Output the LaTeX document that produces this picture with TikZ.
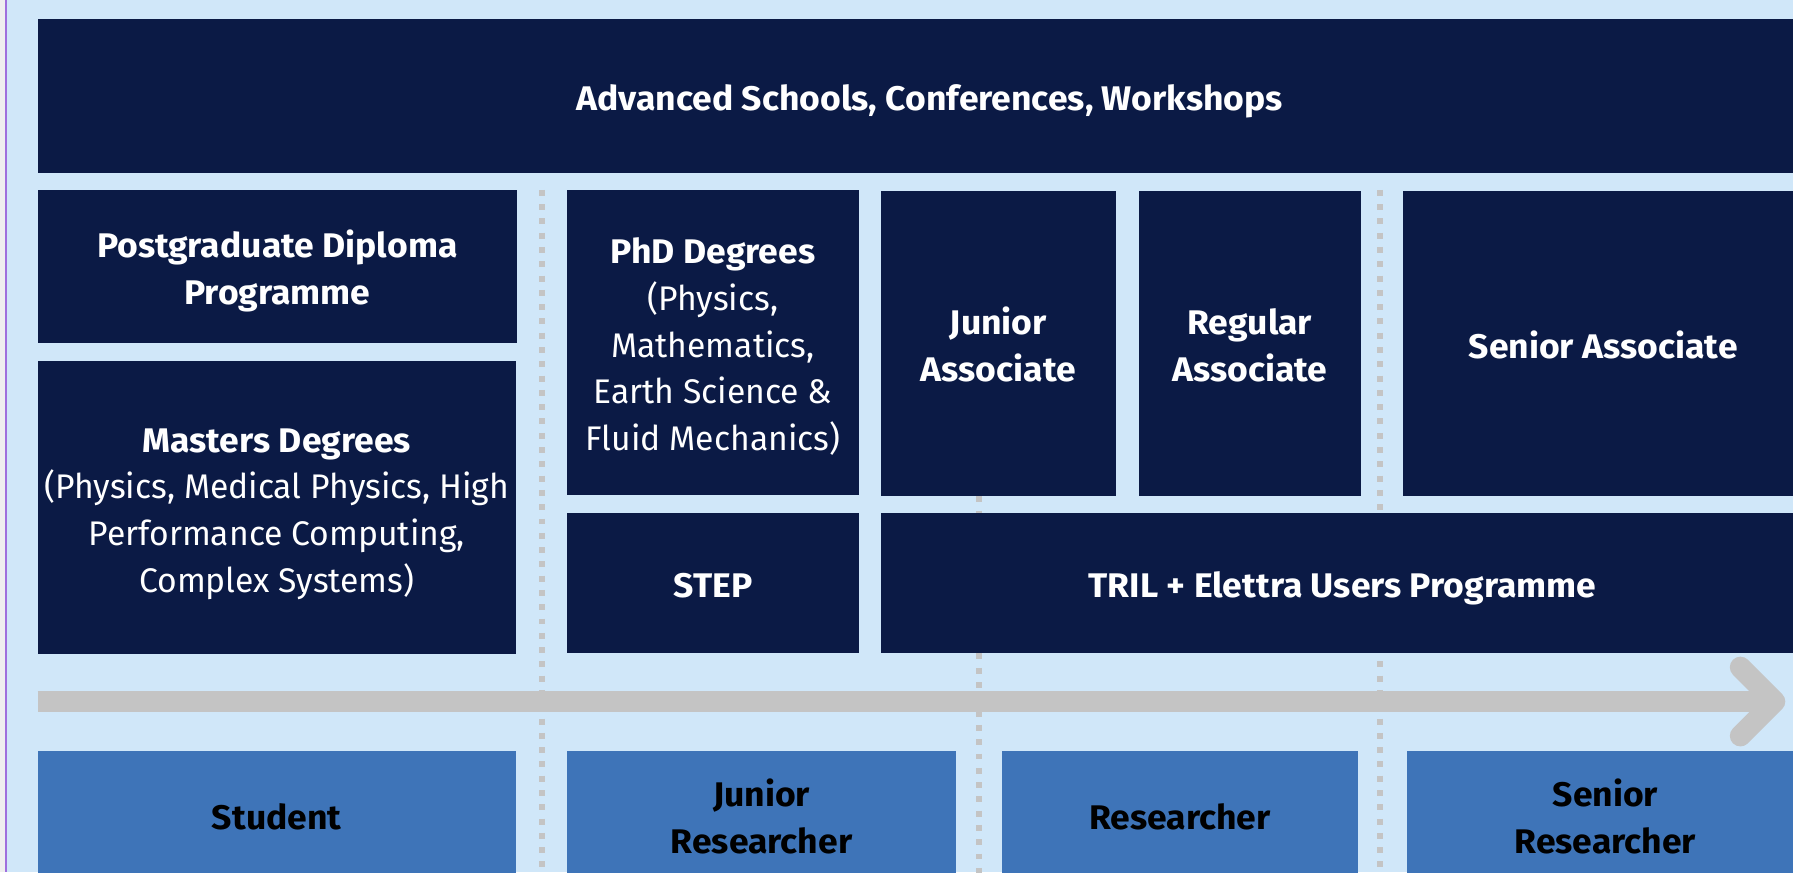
\documentclass[tikz,border=0pt]{standalone}
\usepackage{fontspec}
\setmainfont{Fira Sans}[UprightFeatures={FakeStretch=0.985}, BoldFeatures={FakeStretch=1.04}]
\definecolor{navy}{HTML}{0B1A45}
\definecolor{midblue}{HTML}{3E74B8}
\definecolor{bgblue}{HTML}{D0E7F9}
\definecolor{sepgray}{HTML}{C4C4C4}
\definecolor{edgegray}{HTML}{EFEFEF}
\definecolor{edgepurple}{HTML}{9F6FDD}
\newcommand\tst{\rule{0pt}{0.71cm}}
\newcommand\bst{\rule[-0.2cm]{0pt}{0.2cm}}
\begin{document}
\begin{tikzpicture}[x=0.02cm,y=-0.02cm,
  wh/.style 2 args={minimum width=#1*0.02cm, minimum height=#2*0.02cm},
  box/.style={draw=none, inner sep=0pt, outer sep=0pt, anchor=north west, align=center,
              font=\fontsize{17}{23.2}\selectfont},
  dark/.style={box, fill=navy, text=white},
  mid/.style={box, fill=midblue, text=black},
  sepline/.style={line width=0.1cm, draw=sepgray, dash pattern=on 0.104cm off 0.146cm},
  progress/.style={line width=0.37cm, draw=sepgray}]
\useasboundingbox (0,0) rectangle (1568,763);
\clip (0,0) rectangle (1568,763);
\fill[bgblue] (0,0) rectangle (1568,763);
\fill[edgegray] (0,0) rectangle (5,763);
\draw[edgepurple, line width=0.03cm] (5.5,0) -- (5.5,763);
% separators
\coordinate (s1t) at (474,166); \coordinate (s1b) at (474,770);
\coordinate (s2t) at (856,434); \coordinate (s2b) at (856,770);
\coordinate (s3t) at (1207,166); \coordinate (s3b) at (1207,770);
\draw[sepline] (s1t) -- (s1b);
\draw[sepline] (s2t) -- (s2b);
\draw[sepline] (s3t) -- (s3b);
% progress arrow
\coordinate (aS) at (33,613.5);
\coordinate (aT) at (1552,613.5);
\coordinate (aU) at (1522,583.5);
\coordinate (aL) at (1522,643.5);
\draw[progress] (aS) -- (aT);
\draw[progress, line cap=round, line join=round] (aU) -- (aT) -- (aL);
% top row
\node[dark, wh={1560}{134}] (top) at (33,17) {\tst\bfseries Advanced Schools, Conferences, Workshops\bst};
% second block
\node[dark, wh={419}{134}] (pgd) at (33,166) {\tst\bfseries Postgraduate Diploma\\\bfseries Programme\bst};
\node[dark, wh={418}{256}] (mst) at (33,316) {\tst\bfseries Masters Degrees\\(Physics, Medical Physics, High\\Performance Computing,\\Complex Systems)\bst};
\node[dark, wh={255}{267}] (phd) at (496,166) {\tst\bfseries PhD Degrees\\(Physics,\\Mathematics,\\Earth Science \&\\Fluid Mechanics)\bst};
\node[dark, wh={255}{122}] (step) at (496,449) {\tst\bfseries STEP\bst};
\node[dark, wh={206}{267}] (jas) at (770,167) {\tst\bfseries Junior\\\bfseries Associate\bst};
\node[dark, wh={194}{267}] (ras) at (996,167) {\tst\bfseries Regular\\\bfseries Associate\bst};
\node[dark, wh={350}{267}] (sas) at (1227,167) {\tst\bfseries Senior Associate\bst};
\node[dark, wh={808}{122}] (tril) at (770,449) {\tst\bfseries TRIL + Elettra Users Programme\bst};
% bottom row
\node[mid, wh={418}{112}] (stu) at (33,657) {\tst\bfseries Student\bst};
\node[mid, wh={340}{112}] (jre) at (496,657) {\tst\bfseries Junior\\\bfseries Researcher\bst};
\node[mid, wh={312}{112}] (res) at (876,657) {\tst\bfseries Researcher\bst};
\node[mid, wh={348}{112}] (sre) at (1230,657) {\tst\bfseries Senior\\\bfseries Researcher\bst};
\end{tikzpicture}
\end{document}
